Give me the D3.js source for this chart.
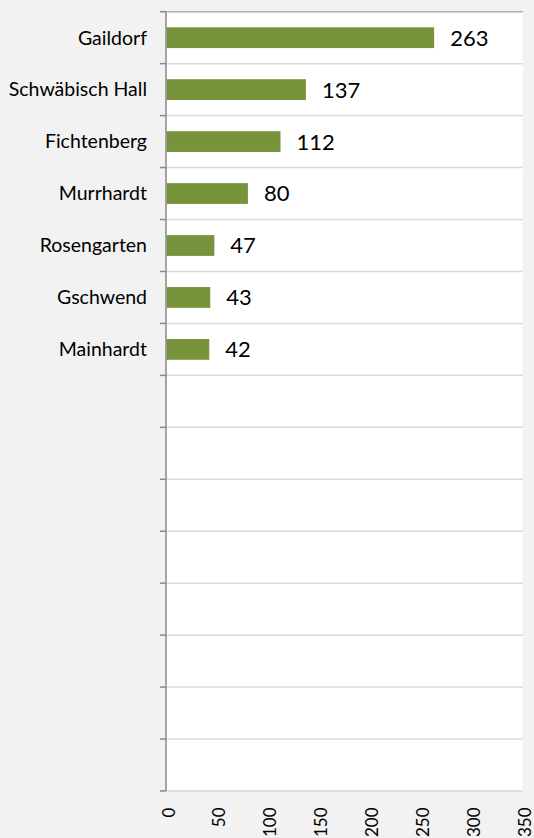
<!DOCTYPE html>
<html><head><meta charset="utf-8">
<script src="https://cdn.jsdelivr.net/npm/d3@7"></script>
<style>body{margin:0;background:#f2f2f2;} svg{display:block;}</style>
</head><body>
<svg id="c" width="534" height="838"></svg>
<script>
const categories = ["Gaildorf","Schwäbisch Hall","Fichtenberg","Murrhardt","Rosengarten","Gschwend","Mainhardt","","","","","","","",""];
const values = [263,137,112,80,47,43,42,null,null,null,null,null,null,null,null];
const xTicks = [0,50,100,150,200,250,300,350];

const svg = d3.select("#c");
const W = 534, H = 838;
const m = {left:166.5, right:11.3, top:11.7, bottom:47};
const font = "Lato, 'Open Sans', sans-serif";
svg.append("rect").attr("width",W).attr("height",H).attr("fill","#f2f2f2");
const x = d3.scaleLinear().domain([0,350]).range([m.left, W-m.right]);
const keys = categories.map((c,i)=>i);
const y = d3.scaleBand().domain(keys).range([m.top, H-m.bottom]).paddingInner(0.6).paddingOuter(0.3);
const yb = d3.scaleBand().domain(keys).range([m.top, H-m.bottom]);

svg.append("rect").attr("x",m.left).attr("y",m.top).attr("width",W-m.right-m.left).attr("height",H-m.bottom-m.top).attr("fill","#fff");

// gridlines
const gl = [m.top].concat(keys.map(k=>yb(k)+yb.bandwidth()));
svg.append("g").selectAll("line").data(gl).join("line")
  .attr("x1",m.left).attr("x2",W-m.right).attr("y1",d=>d).attr("y2",d=>d)
  .attr("stroke",(d,i)=>i===0?"#b0b0b0":"#d9d9d9").attr("stroke-width",1.5);

// bars
svg.append("g").selectAll("rect").data(keys.filter(k=>values[k]!=null)).join("rect")
  .attr("x",x(0)).attr("y",k=>y(k)).attr("width",k=>x(values[k])-x(0)).attr("height",y.bandwidth())
  .attr("fill","#77933c");

// value labels
svg.append("g").selectAll("text").data(keys.filter(k=>values[k]!=null)).join("text")
  .attr("x",k=>x(values[k])+16).attr("y",k=>y(k)+y.bandwidth()/2).attr("dy","0.36em")
  .attr("font-family",font).attr("font-size",22).attr("fill","#000").text(k=>values[k]);

// left axis
const ya = svg.append("g").attr("transform",`translate(${m.left-0.5},0)`);
ya.append("line").attr("y1",m.top).attr("y2",H-m.bottom).attr("stroke","#898989").attr("stroke-width",1.5);
ya.selectAll("line.t").data(gl).join("line").attr("class","t")
  .attr("x1",-6).attr("x2",0).attr("y1",d=>d).attr("y2",d=>d).attr("stroke","#898989").attr("stroke-width",1.5);
ya.selectAll("text").data(keys).join("text")
  .attr("x",-19).attr("y",k=>yb(k)+yb.bandwidth()/2).attr("dy","0.35em").attr("text-anchor","end")
  .attr("font-family",font).attr("font-size",19.5).attr("fill","#000").text(k=>categories[k]);

// bottom tick labels
svg.append("g").selectAll("text").data(xTicks).join("text")
  .attr("transform",d=>`translate(${x(d)+8},807.5) rotate(-90)`)
  .attr("text-anchor","end").attr("font-family",font).attr("font-size",17).attr("fill","#000").text(d=>d);
</script>
</body></html>
